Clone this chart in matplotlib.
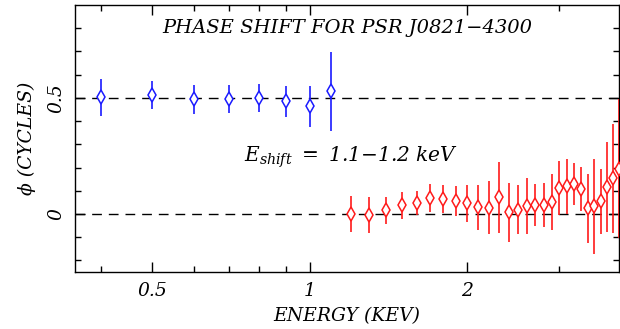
import matplotlib
matplotlib.use('Agg')
import matplotlib.pyplot as plt
from matplotlib.ticker import FixedLocator, NullFormatter, FixedFormatter

# soft band (below E_shift)
soft_energy = [0.4, 0.5, 0.6, 0.7, 0.8, 0.9, 1.0, 1.1]
soft_phase = [0.503, 0.511, 0.493, 0.496, 0.498, 0.485, 0.463, 0.528]
soft_err = [0.080, 0.061, 0.061, 0.060, 0.061, 0.068, 0.087, 0.170]

# hard band (above E_shift)
hard_energy = [1.2, 1.3, 1.4, 1.5, 1.6, 1.7, 1.8, 1.9, 2.0, 2.1, 2.2, 2.3, 2.4, 2.5,
               2.6, 2.7, 2.8, 2.9, 3.0, 3.1, 3.2, 3.3, 3.4, 3.5, 3.6, 3.7, 3.8, 3.9]
hard_phase = [0.000, -0.003, 0.016, 0.037, 0.047, 0.069, 0.064, 0.056, 0.046, 0.029,
              0.026, 0.072, 0.007, 0.019, 0.033, 0.037, 0.037, 0.052, 0.112, 0.119,
              0.128, 0.107, 0.024, 0.033, 0.055, 0.116, 0.153, 0.195]
hard_err = [0.079, 0.077, 0.059, 0.059, 0.053, 0.061, 0.062, 0.064, 0.079, 0.097,
            0.114, 0.153, 0.126, 0.104, 0.120, 0.090, 0.095, 0.120, 0.117, 0.118,
            0.090, 0.095, 0.150, 0.205, 0.140, 0.192, 0.233, 0.300]

x_major = [0.5, 1, 2]
x_major_labels = ['0.5', '1', '2']
x_minor = [0.4, 0.6, 0.7, 0.8, 0.9, 3]
y_major = [0, 0.5]
y_major_labels = ['0', '0.5']
y_minor = [-0.2, -0.1, 0.1, 0.2, 0.3, 0.4, 0.6, 0.7, 0.8]

plt.rcParams['mathtext.fontset'] = 'custom'
plt.rcParams['mathtext.rm'] = 'DejaVu Serif:italic'
plt.rcParams['mathtext.it'] = 'DejaVu Serif:italic'
font = dict(family='DejaVu Serif', style='italic')

fig = plt.figure(figsize=(6.2, 3.29), dpi=100)
ax = fig.add_axes([75/620, 57/329, 544/620, 267/329])

ax.axhline(0.5, color='black', lw=1, ls=(0, (7, 5)), zorder=1)
ax.axhline(0.0, color='black', lw=1, ls=(0, (7, 5)), zorder=1)

ax.errorbar(soft_energy, soft_phase, yerr=soft_err, fmt='d', color='#1a1aff',
            mfc='white', mec='#1a1aff', ms=7.5, mew=1.1, elinewidth=1.2, capsize=0, zorder=3)
ax.errorbar(hard_energy, hard_phase, yerr=hard_err, fmt='d', color='#ff1a1a',
            mfc='white', mec='#ff1a1a', ms=7.5, mew=1.1, elinewidth=1.2, capsize=0, zorder=3)

ax.set_xscale('log')
ax.set_xlim(0.356, 3.9)
ax.set_ylim(-0.25, 0.9)

ax.xaxis.set_major_locator(FixedLocator(x_major))
ax.xaxis.set_major_formatter(FixedFormatter(x_major_labels))
ax.xaxis.set_minor_locator(FixedLocator(x_minor))
ax.xaxis.set_minor_formatter(NullFormatter())
ax.yaxis.set_major_locator(FixedLocator(y_major))
ax.yaxis.set_major_formatter(FixedFormatter(y_major_labels))
ax.yaxis.set_minor_locator(FixedLocator(y_minor))

ax.tick_params(which='both', direction='in', top=True, right=True, width=1)
ax.tick_params(which='major', length=7, labelsize=13.5, pad=7)
ax.tick_params(which='minor', length=4)
for lab in ax.get_xticklabels() + ax.get_yticklabels():
    lab.set_family('DejaVu Serif')
    lab.set_style('italic')
for lab in ax.get_yticklabels():
    lab.set_rotation(90)
    lab.set_va('center')
for s in ax.spines.values():
    s.set_linewidth(1)

ax.set_xlabel('ENERGY (KEV)', fontsize=13.5, labelpad=5, **font)
ax.set_ylabel('\u03d5 (CYCLES)', fontsize=13.5, labelpad=8, **font)

ax.text(0.5, 0.915, 'PHASE SHIFT FOR PSR J0821\u22124300', transform=ax.transAxes,
        ha='center', va='center', fontsize=14, **font)
ax.text(0.507, 0.43, r'$E_{shift}\ =\ 1.1{-}1.2\ keV$', transform=ax.transAxes,
        ha='center', va='center', fontsize=14.5)

fig.savefig('out.png', dpi=100)
